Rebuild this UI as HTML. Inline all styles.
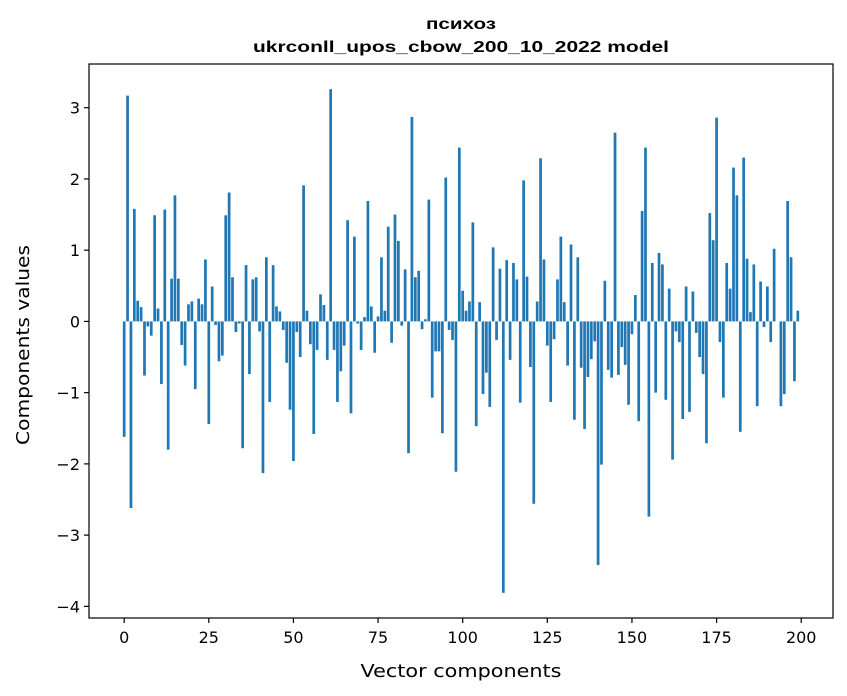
<!DOCTYPE html>
<html><head><meta charset="utf-8"><style>
html,body{margin:0;padding:0;background:#fff;}
svg{display:block;font-family:"DejaVu Sans","Liberation Sans",sans-serif;}
</style></head><body>
<svg id="chart" width="847" height="696" viewBox="0 0 847 696" xmlns="http://www.w3.org/2000/svg">
<rect x="0" y="0" width="847" height="696" fill="#fff"/>
<text x="461" y="29" text-anchor="middle" font-size="16" font-weight="bold" font-family="Liberation Sans, sans-serif" textLength="70" lengthAdjust="spacingAndGlyphs">психоз</text>
<text x="461" y="52" text-anchor="middle" font-size="16" font-weight="bold" font-family="Liberation Sans, sans-serif" textLength="416" lengthAdjust="spacingAndGlyphs">ukrconll_upos_cbow_200_10_2022 model</text>
<g id="bars"></g>
<g id="xaxis"></g>
<g id="yaxis"></g>
<rect x="89" y="64" width="744" height="554" fill="none" stroke="#000" stroke-width="1.2"/>
<text x="461" y="677" text-anchor="middle" font-size="18" textLength="201" lengthAdjust="spacingAndGlyphs">Vector components</text>
<text transform="translate(29,345) rotate(-90)" text-anchor="middle" font-size="18" textLength="200" lengthAdjust="spacingAndGlyphs">Components values</text>
</svg>
<script>
const values = [
-1.62,3.17,-2.62,1.58,0.29,0.2,-0.76,-0.07,-0.2,1.49,0.18,-0.88,1.57,-1.8,0.6,1.77,0.6,-0.33,-0.62,0.24,
0.28,-0.95,0.32,0.24,0.87,-1.44,0.49,-0.05,-0.56,-0.48,1.49,1.81,0.62,-0.15,-0.03,-1.78,0.79,-0.74,0.59,0.62,
-0.14,-2.13,0.9,-1.13,0.79,0.21,0.14,-0.12,-0.58,-1.24,-1.96,-0.15,-0.5,1.91,0.15,-0.32,-1.58,-0.4,0.38,0.23,
-0.54,3.26,-0.4,-1.13,-0.7,-0.34,1.42,-1.29,1.19,-0.03,-0.4,0.06,1.69,0.21,-0.44,0.07,0.9,0.15,1.33,-0.3,
1.5,1.13,-0.06,0.73,-1.85,2.87,0.62,0.71,-0.11,0.03,1.71,-1.07,-0.42,-0.42,-1.57,2.02,-0.12,-0.26,-2.11,2.44,
0.43,0.15,0.28,1.39,-1.47,0.27,-1.02,-0.72,-1.2,1.04,-0.26,0.74,-3.81,0.86,-0.54,0.82,0.59,-1.14,1.98,0.63,
-0.64,-2.56,0.28,2.29,0.87,-0.34,-1.13,-0.25,0.59,1.19,0.27,-0.62,1.08,-1.38,0.9,-0.65,-1.51,-0.78,-0.53,-0.28,
-3.42,-2.01,0.57,-0.68,-0.79,2.65,-0.75,-0.36,-0.61,-1.17,-0.18,0.37,-1.4,1.55,2.44,-2.74,0.82,-1.0,0.96,0.8,
-1.1,0.46,-1.94,-0.14,-0.29,-1.37,0.49,-1.27,0.42,-0.16,-0.5,-0.74,-1.71,1.52,1.14,2.86,-0.29,-1.07,0.82,0.46,
2.16,1.77,-1.55,2.3,0.88,0.13,0.8,-1.19,0.56,-0.08,0.49,-0.29,1.02,0.0,-1.19,-1.02,1.69,0.9,-0.84,0.15
];
const xTicks = [0,25,50,75,100,125,150,175,200];
const yTicks = [-4,-3,-2,-1,0,1,2,3];

const NS = "http://www.w3.org/2000/svg";
const L=89,R=833,T=64,B=618;
const n = values.length;
const xmin=-0.4-(n-0.2)*0.05, xmax=(n-1)+0.4+(n-0.2)*0.05;
const vmin=Math.min(...values), vmax=Math.max(...values), vr=vmax-vmin;
const ymin=vmin-vr*0.05, ymax=vmax+vr*0.05;
function xs(v){return L+(v-xmin)/(xmax-xmin)*(R-L);}
function ys(v){return B-(v-ymin)/(ymax-ymin)*(B-T);}
const bars=document.getElementById('bars');
values.forEach((v,i)=>{
  const r=document.createElementNS(NS,'rect');
  const x0=xs(i-0.4), x1=xs(i+0.4);
  const y0=ys(Math.max(v,0)), y1=ys(Math.min(v,0));
  r.setAttribute('x',x0);r.setAttribute('width',x1-x0);
  r.setAttribute('y',y0);r.setAttribute('height',Math.max(y1-y0,0));
  r.setAttribute('fill','#1f77b4');
  
  
  bars.appendChild(r);
});
const xa=document.getElementById('xaxis');
xTicks.forEach(t=>{
  const x=xs(t);
  const l=document.createElementNS(NS,'line');
  l.setAttribute('x1',x);l.setAttribute('x2',x);l.setAttribute('y1',B);l.setAttribute('y2',B+5);
  l.setAttribute('stroke','#000');l.setAttribute('stroke-width','1.2');
  
  
  xa.appendChild(l);
  const tx=document.createElementNS(NS,'text');
  tx.setAttribute('x',x);tx.setAttribute('y',B+25);tx.setAttribute('text-anchor','middle');tx.setAttribute('font-size','16');
  tx.textContent=t;
  
  
  xa.appendChild(tx);
});
const ya=document.getElementById('yaxis');
yTicks.forEach(t=>{
  const y=ys(t);
  const l=document.createElementNS(NS,'line');
  l.setAttribute('x1',L-5);l.setAttribute('x2',L);l.setAttribute('y1',y);l.setAttribute('y2',y);
  l.setAttribute('stroke','#000');l.setAttribute('stroke-width','1.2');
  
  
  ya.appendChild(l);
  const tx=document.createElementNS(NS,'text');
  tx.setAttribute('x',L-9);tx.setAttribute('y',y+6);tx.setAttribute('text-anchor','end');tx.setAttribute('font-size','16');
  tx.textContent=t<0?'\u2212'+(-t):String(t);
  
  
  ya.appendChild(tx);
});
</script>
</body></html>
